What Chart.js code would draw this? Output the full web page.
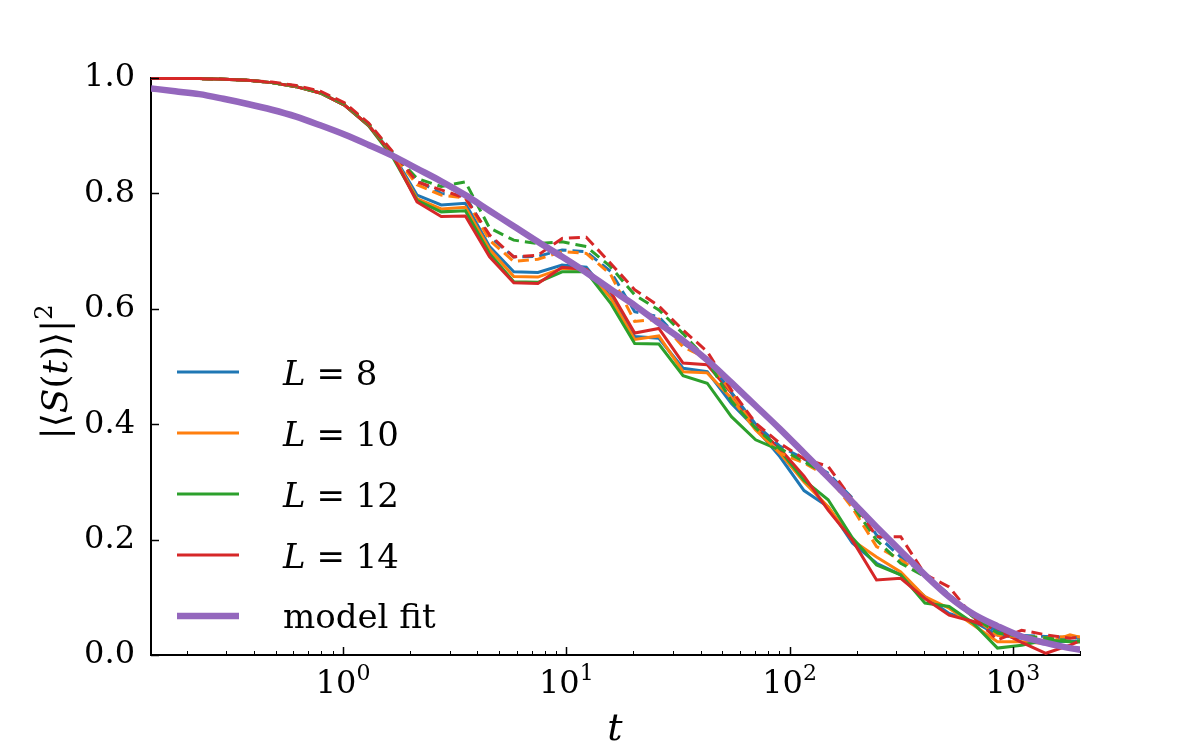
<!DOCTYPE html>
<html>
<head>
<meta charset="utf-8">
<script src="https://cdn.jsdelivr.net/npm/chart.js@4.4.1/dist/chart.umd.min.js"></script>
<style>
  html, body { margin: 0; padding: 0; background: #fff; }
  #wrap { width: 1200px; height: 750px; }
</style>
</head>
<body>
<div id="wrap"><canvas id="grafico"></canvas></div>
<script>
// tempos t (eixo x, log)
const tValues = [0.138, 0.177, 0.227, 0.291, 0.374, 0.480, 0.616, 0.791, 1.015, 1.302,
                 1.671, 2.145, 2.753, 3.532, 4.532, 5.818, 7.464, 9.579, 12.29, 15.78,
                 20.25, 25.98, 33.34, 42.79, 54.92, 70.47, 90.44, 116.1, 148.9, 191.1,
                 245.3, 314.8, 404.0, 518.5, 665.3, 853.9, 1096, 1406, 1804, 2315];

// curvas cheias
const solidL8  = [0.999, 0.999, 0.999, 0.998, 0.996, 0.992, 0.985, 0.974, 0.953, 0.918,
                  0.868, 0.797, 0.780, 0.783, 0.708, 0.664, 0.663, 0.676, 0.672, 0.621,
                  0.552, 0.549, 0.497, 0.491, 0.436, 0.393, 0.344, 0.285, 0.257, 0.194,
                  0.159, 0.139, 0.101, 0.072, 0.058, 0.035, 0.029, 0.023, 0.024, 0.025];
const solidL10 = [0.999, 0.999, 0.999, 0.998, 0.996, 0.992, 0.985, 0.974, 0.953, 0.918,
                  0.866, 0.791, 0.773, 0.776, 0.703, 0.656, 0.655, 0.670, 0.668, 0.619,
                  0.547, 0.553, 0.491, 0.489, 0.445, 0.390, 0.350, 0.300, 0.257, 0.199,
                  0.170, 0.144, 0.101, 0.081, 0.052, 0.023, 0.023, 0.020, 0.035, 0.025];
const solidL12 = [0.999, 0.999, 0.999, 0.998, 0.996, 0.992, 0.985, 0.974, 0.953, 0.917,
                  0.862, 0.788, 0.768, 0.770, 0.696, 0.647, 0.646, 0.664, 0.664, 0.610,
                  0.540, 0.539, 0.484, 0.471, 0.413, 0.373, 0.355, 0.303, 0.269, 0.203,
                  0.156, 0.139, 0.090, 0.084, 0.055, 0.012, 0.017, 0.026, 0.023, 0.022];
const solidL14 = [0.999, 0.999, 0.999, 0.998, 0.996, 0.992, 0.985, 0.974, 0.953, 0.918,
                  0.866, 0.785, 0.760, 0.761, 0.690, 0.645, 0.644, 0.672, 0.668, 0.630,
                  0.558, 0.566, 0.506, 0.503, 0.454, 0.396, 0.358, 0.310, 0.251, 0.199,
                  0.130, 0.133, 0.098, 0.069, 0.058, 0.043, 0.022, 0.003, 0.017, 0.035];

// curvas tracejadas
const dashL8  = [0.999, 0.999, 0.999, 0.998, 0.996, 0.992, 0.986, 0.975, 0.955, 0.920,
                 0.870, 0.822, 0.800, 0.795, 0.725, 0.690, 0.691, 0.702, 0.699, 0.665,
                 0.595, 0.586, 0.540, 0.514, 0.455, 0.400, 0.362, 0.340, 0.315, 0.272,
                 0.208, 0.170, 0.140, 0.105, 0.066, 0.040, 0.034, 0.032, 0.030, 0.030];
const dashL10 = [0.999, 0.999, 0.999, 0.998, 0.996, 0.992, 0.986, 0.975, 0.955, 0.920,
                 0.869, 0.815, 0.797, 0.792, 0.719, 0.682, 0.686, 0.699, 0.696, 0.660,
                 0.578, 0.582, 0.534, 0.514, 0.456, 0.393, 0.350, 0.333, 0.309, 0.255,
                 0.188, 0.165, 0.136, 0.100, 0.066, 0.034, 0.032, 0.030, 0.032, 0.030];
const dashL12 = [0.999, 0.999, 0.999, 0.998, 0.996, 0.992, 0.986, 0.975, 0.955, 0.920,
                 0.870, 0.826, 0.812, 0.820, 0.740, 0.719, 0.713, 0.716, 0.708, 0.673,
                 0.624, 0.598, 0.557, 0.511, 0.440, 0.393, 0.358, 0.335, 0.312, 0.260,
                 0.199, 0.159, 0.136, 0.100, 0.066, 0.038, 0.032, 0.030, 0.024, 0.025];
const dashL14 = [0.999, 0.999, 0.999, 0.998, 0.996, 0.993, 0.987, 0.977, 0.957, 0.922,
                 0.872, 0.820, 0.806, 0.792, 0.728, 0.690, 0.693, 0.722, 0.724, 0.679,
                 0.633, 0.605, 0.563, 0.526, 0.459, 0.402, 0.367, 0.340, 0.327, 0.269,
                 0.205, 0.205, 0.140, 0.118, 0.066, 0.026, 0.043, 0.035, 0.029, 0.035];

// ajuste do modelo
const modelFit = [0.982, 0.977, 0.972, 0.964, 0.955, 0.945, 0.933, 0.918, 0.902, 0.884,
                  0.865, 0.843, 0.821, 0.797, 0.770, 0.743, 0.716, 0.690, 0.663, 0.634,
                  0.606, 0.575, 0.545, 0.511, 0.472, 0.432, 0.392, 0.350, 0.308, 0.265,
                  0.222, 0.180, 0.139, 0.101, 0.071, 0.050, 0.032, 0.021, 0.012, 0.006];

const yTicks = [0.0, 0.2, 0.4, 0.6, 0.8, 1.0];
const xDecades = [0, 1, 2, 3];
const legendNames = ['8', '10', '12', '14'];

const COR = { azul: '#1f77b4', laranja: '#ff7f0e', verde: '#2ca02c', vermelho: '#d62728', roxo: '#9467bd' };
const FONTE = '"DejaVu Serif", "Liberation Serif", serif';

function serie(label, vals, color, dashed, order) {
    return {
        label: label,
        data: vals.map((v, i) => ({ x: tValues[i], y: v })),
        borderColor: color,
        borderWidth: 3,
        borderDash: dashed ? [11, 6] : [],
        pointRadius: 0,
        tension: 0,
        fill: false,
        order: order,
        clip: { left: 0, right: 0, top: 3, bottom: 3 }
    };
}

const datasets = [
    {
        label: 'model fit',
        data: modelFit.map((v, i) => ({ x: tValues[i], y: v })),
        borderColor: COR.roxo,
        borderWidth: 6.5,
        pointRadius: 0,
        cubicInterpolationMode: 'monotone',
        fill: false,
        order: 0,
        clip: { left: 0, right: 0, top: 5, bottom: 5 }
    },
    serie('L=14 dash', dashL14, COR.vermelho, true, 1),
    serie('L=12 dash', dashL12, COR.verde, true, 2),
    serie('L=10 dash', dashL10, COR.laranja, true, 3),
    serie('L=8 dash', dashL8, COR.azul, true, 4),
    serie('L=14', solidL14, COR.vermelho, false, 5),
    serie('L=12', solidL12, COR.verde, false, 6),
    serie('L=10', solidL10, COR.laranja, false, 7),
    serie('L=8', solidL8, COR.azul, false, 8)
];

// desenha texto com partes em italico / sobrescrito
function textoRico(ctx, partes, x, y, size, align) {
    const fontes = partes.map(p => {
        const s = p.sup ? Math.round(size * 0.68) : size;
        return (p.it ? 'italic ' : '') + s + 'px ' + FONTE;
    });
    let total = 0;
    const larg = partes.map((p, i) => { ctx.font = fontes[i]; const w = ctx.measureText(p.t).width; total += w; return w; });
    let cx = align === 'center' ? x - total / 2 : x;
    ctx.textAlign = 'left';
    ctx.textBaseline = 'alphabetic';
    partes.forEach((p, i) => {
        ctx.font = fontes[i];
        ctx.fillText(p.t, cx, p.sup ? y - size * 0.42 : y);
        cx += larg[i];
    });
}

const decorPlugin = {
    id: 'decor',
    afterDraw(chart) {
        const ctx = chart.ctx;
        const xs = chart.scales.x;
        const ys = chart.scales.y;
        const area = chart.chartArea;
        ctx.save();
        ctx.strokeStyle = '#000';
        ctx.fillStyle = '#000';

        // ticks do eixo x (para dentro)
        for (let k = -1; k <= 3; k++) {
            for (let m = 1; m <= 9; m++) {
                const v = m * Math.pow(10, k);
                if (v < xs.min || v > xs.max) continue;
                const px = Math.round(xs.getPixelForValue(v)) + 0.5;
                ctx.lineWidth = m === 1 ? 1.5 : 1;
                ctx.beginPath();
                ctx.moveTo(px, area.bottom);
                ctx.lineTo(px, area.bottom - (m === 1 ? 8 : 4));
                ctx.stroke();
            }
        }
        // ticks do eixo y
        yTicks.forEach(v => {
            const py = Math.round(ys.getPixelForValue(v)) + 0.5;
            ctx.lineWidth = 1.5;
            ctx.beginPath();
            ctx.moveTo(area.left, py);
            ctx.lineTo(area.left + 8, py);
            ctx.stroke();
        });

        // rotulos 10^k
        xDecades.forEach(k => {
            const px = xs.getPixelForValue(Math.pow(10, k));
            textoRico(ctx, [{ t: '10' }, { t: String(k), sup: true }], px, 693, 32, 'center');
        });

        // titulo x
        textoRico(ctx, [{ t: 't', it: true }], 615, 740, 38, 'center');

        // titulo y
        ctx.save();
        ctx.translate(54, 372);
        ctx.rotate(-Math.PI / 2);
        textoRico(ctx, [{ t: '|\u27E8' }, { t: 'S', it: true }, { t: '(' }, { t: 't', it: true },
                        { t: ')\u27E9|' }, { t: '2', sup: true }], 0, 13, 36, 'center');
        ctx.restore();

        // legenda
        const itens = [
            { cor: COR.azul, w: 3, nome: legendNames[0] },
            { cor: COR.laranja, w: 3, nome: legendNames[1] },
            { cor: COR.verde, w: 3, nome: legendNames[2] },
            { cor: COR.vermelho, w: 3, nome: legendNames[3] },
            { cor: COR.roxo, w: 6.5, nome: null }
        ];
        itens.forEach((it, i) => {
            const yl = 372 + i * 61;
            ctx.strokeStyle = it.cor;
            ctx.lineWidth = it.w;
            ctx.setLineDash([]);
            ctx.beginPath();
            ctx.moveTo(177, yl);
            ctx.lineTo(239, yl);
            ctx.stroke();
            ctx.fillStyle = '#000';
            if (it.nome) {
                textoRico(ctx, [{ t: 'L', it: true }, { t: ' = ' + it.nome }], 283, yl + 13, 34, 'left');
            } else {
                textoRico(ctx, [{ t: 'model fit' }], 283, yl + 12, 34, 'left');
            }
        });
        ctx.restore();
    }
};

const ctxGrafico = document.getElementById('grafico').getContext('2d');
new Chart(ctxGrafico, {
    type: 'line',
    data: { datasets: datasets },
    options: {
        responsive: true,
        maintainAspectRatio: false,
        animation: false,
        layout: { padding: { left: 0, right: 120, top: 78, bottom: 0 } },
        plugins: {
            legend: { display: false },
            tooltip: { enabled: false }
        },
        scales: {
            x: {
                type: 'logarithmic',
                min: 0.138,
                max: 2000,
                ticks: { display: false },
                grid: { display: true, drawOnChartArea: false, drawTicks: false },
                border: { display: true, color: '#000', width: 2 },
                afterFit: s => { s.height = 95; }
            },
            y: {
                min: 0,
                max: 1,
                ticks: {
                    stepSize: 0.2,
                    callback: v => Number(v).toFixed(1),
                    font: { family: FONTE, size: 32 },
                    color: '#000',
                    padding: 16
                },
                grid: { display: true, drawOnChartArea: false, drawTicks: false },
                border: { display: true, color: '#000', width: 2 },
                afterFit: s => { s.width = 151; }
            }
        }
    },
    plugins: [decorPlugin]
});
</script>
</body>
</html>
